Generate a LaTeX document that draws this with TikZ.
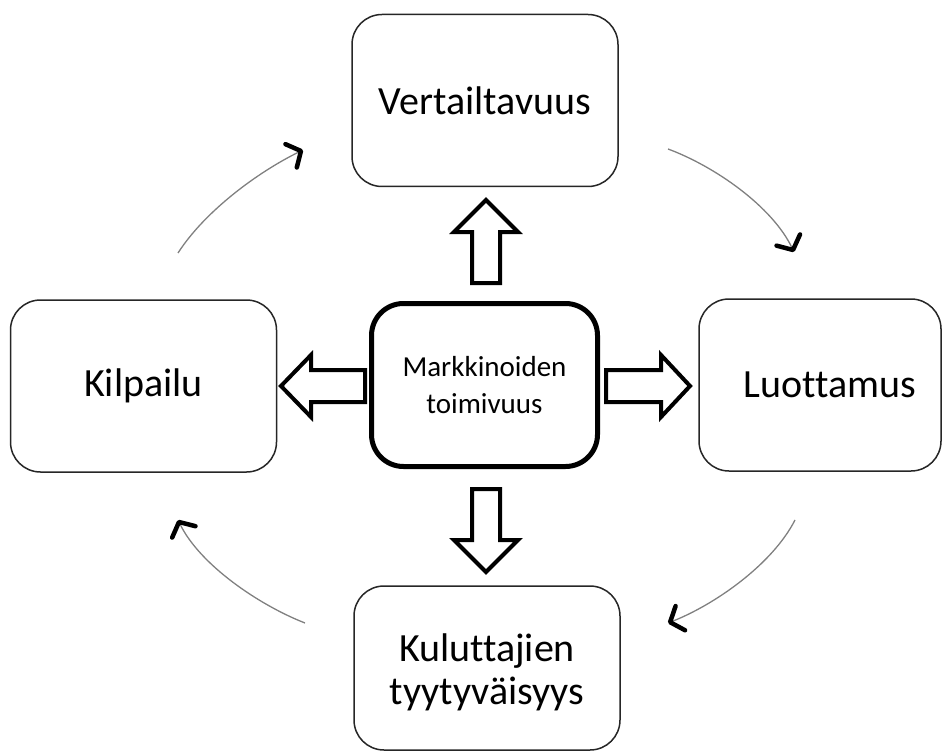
\documentclass[tikz,border=0pt]{standalone}
\usepackage{fontspec}
\setmainfont{Carlito}[Ligatures=NoCommon]
\usetikzlibrary{arrows.meta}
\begin{document}
\begin{tikzpicture}[x=1pt,y=-1pt,
  box/.style={draw=black!85, line width=1.5pt, rounded corners=30pt, fill=white,
    align=center, inner sep=0pt, minimum width=266pt, minimum height=172pt,
    font=\fontsize{40}{43}\selectfont},
  hub/.style={draw=black, line width=5pt, rounded corners=32pt, fill=white,
    align=center, inner sep=0pt, minimum width=226pt, minimum height=163pt,
    font=\fontsize{29}{37}\selectfont},
  blockarrow/.style={draw=black, line width=4pt, fill=white, line join=miter},
  cyclearrow/.style={draw=black!50, line width=1.3pt,
    -{Straight Barb[length=11pt,width=26pt,line width=4.5pt,round,color=black]}}
]
\useasboundingbox (0,0) rectangle (950,754);

% the four outer stages and the central hub
\node[box] (vert) at (485,100.5) {Vertailtavuus};
\node[box, minimum width=242pt, text width=242pt] (luot) at (820,385)
  {\hspace*{20pt}Luottamus};
\node[box, minimum height=164pt] (kulu) at (487,668) {};
\node[align=center, font=\fontsize{40}{43}\selectfont] (kulutext) at (487,672)
  {Kuluttajien\\tyytyväisyys};
\node[box] (kilp) at (143.5,386) {Kilpailu};
\node[hub] (hub) at (484.5,385) {Markkinoiden\\toimivuus};

% hollow block arrows pointing out of the hub
\draw[blockarrow] (472,283) -- (472,232) -- (454,232) -- (486,200) -- (518,232)
  -- (500,232) -- (500,283) -- cycle;
\draw[blockarrow] (472,489) -- (472,540) -- (454,540) -- (486,572) -- (518,540)
  -- (500,540) -- (500,489) -- cycle;
\draw[blockarrow] (365,370) -- (311,370) -- (311,355) -- (281,386) -- (311,417)
  -- (311,402) -- (365,402) -- cycle;
\draw[blockarrow] (606,370) -- (661,370) -- (661,355) -- (690,386) -- (661,417)
  -- (661,402) -- (606,402) -- cycle;

% end points of the circular flow arrows
\coordinate (a1s) at (178,253);
\coordinate (a1e) at (303,150);
\coordinate (a2s) at (668,149);
\coordinate (a2e) at (794,252);
\coordinate (a3s) at (795,520);
\coordinate (a3e) at (668,623);
\coordinate (a4s) at (305,623);
\coordinate (a4e) at (178,520);

\draw[cyclearrow] (a1s) .. controls (205,211) and (258,172) .. (a1e);
\draw[cyclearrow] (a2s) .. controls (714,166) and (772,206) .. (a2e);
\draw[cyclearrow] (a3s) .. controls (772,565) and (714,605) .. (a3e);
\draw[cyclearrow] (a4s) .. controls (259,605) and (200,565) .. (a4e);
\end{tikzpicture}
\end{document}
